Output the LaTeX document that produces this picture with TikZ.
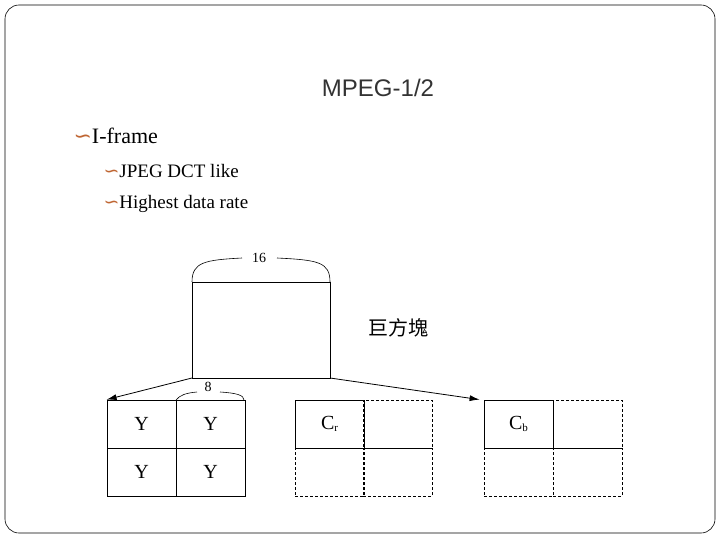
\documentclass[tikz,border=0pt]{standalone}
\usepackage{fontspec}
\setmainfont{Liberation Serif}
\newfontfamily\titlefont{Liberation Sans}
\newfontfamily\cjk{Noto Sans CJK TC}
\newfontfamily\symfont{DejaVu Sans}
\usetikzlibrary{positioning,arrows.meta}
\definecolor{bulletbrown}{rgb}{0.75,0.4,0.2}
\newcommand{\bul}{{\symfont\color{bulletbrown}\char"223D}}
\tikzset{
  cell/.style={draw, line width=0.8pt, minimum width=69pt, minimum height=48pt, inner sep=0pt, font=\fontsize{20}{20}\selectfont},
  dcell/.style={cell, densely dashed, line width=0.6pt},
  split/.style={-{Latex[length=10pt,width=6pt]}, line width=0.8pt}
}
\begin{document}
\begin{tikzpicture}[x=1pt, y=-1pt]
	\useasboundingbox (0,0) rectangle (720,540);
	\draw[line width=0.6pt, rounded corners=14pt] (5,5) rectangle (715,533);
	\node (title) at (378,88) {\titlefont\fontsize{24}{24}\selectfont\color{black!80}MPEG-1/2};
	\node[anchor=west, font=\fontsize{22}{22}\selectfont] (iframe) at (70,136) {\bul I-frame};
	\node[anchor=west, font=\fontsize{19}{19}\selectfont] (jpeg) at (100,171) {\bul JPEG DCT like};
	\node[anchor=west, font=\fontsize{19}{19}\selectfont] (high) at (100,204) {\bul Highest data rate};
	
	% macroblock
	\draw[line width=0.8pt] (192,378) rectangle (330,282);
	\coordinate (mbl) at (192,378);
	\coordinate (mbr) at (330,378);
	\draw[line width=0.6pt] (192,282) .. controls (192,262) and (205,260) .. (242,258);
	\draw[line width=0.6pt] (277,258) .. controls (318,260) and (330,262) .. (330,282);
	\node[font=\fontsize{14}{14}\selectfont] (sixteen) at (259,258) {16};
	\node[font=\cjk\fontsize{20}{20}\selectfont] (mb) at (398,328) {巨方塊};
	
	% Y blocks
	\node[cell] (y1) at (141.5,424) {Y};
	\node[cell] (y2) at (210.5,424) {Y};
	\node[cell] (y3) at (141.5,472) {Y};
	\node[cell] (y4) at (210.5,472) {Y};
	\draw[line width=0.6pt] (176,400) .. controls (180,395) and (186,393) .. (197,392);
	\draw[line width=0.6pt] (220,392) .. controls (236,393) and (244,395) .. (244,400);
	\node[font=\fontsize{14}{14}\selectfont] (eight) at (208,387) {8};
	
	% Cr blocks
	\node[dcell] (cr2) at (397.5,424) {};
	\node[dcell] (cr3) at (329.5,472) {};
	\node[dcell] (cr4) at (397.5,472) {};
	\node[cell] (cr1) at (329.5,424) {C\raisebox{-0.2ex}{\fontsize{11}{11}\selectfont r}};
	
	% Cb blocks
	\node[dcell] (cb2) at (587.5,424) {};
	\node[dcell] (cb3) at (518.5,472) {};
	\node[dcell] (cb4) at (587.5,472) {};
	\node[cell] (cb1) at (518.5,424) {C\raisebox{-0.2ex}{\fontsize{11}{11}\selectfont b}};
	
	\draw[split] (mbl) -- (y1.north west);
	\draw[split] (mbr) -- ([xshift=-4pt]cb1.north west);
\end{tikzpicture}
\end{document}
